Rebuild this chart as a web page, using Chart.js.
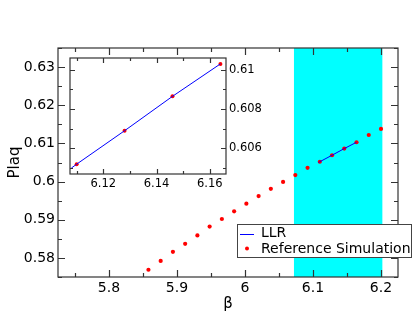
<!DOCTYPE html>
<html>
<head>
<meta charset="utf-8">
<script src="https://cdn.jsdelivr.net/npm/chart.js@4.4.1/dist/chart.umd.min.js"></script>
<style>
  html, body { margin: 0; padding: 0; background: #fff; }
  #wrap { position: relative; width: 415px; height: 321px; }
  #wrap canvas { position: absolute; left: 0; top: 0; }
</style>
</head>
<body>
<div id="wrap">
  <canvas id="main" width="415" height="321"></canvas>
  <canvas id="inset" width="415" height="321"></canvas>
</div>
<script>
// reference simulation
const refBeta = [5.858, 5.876, 5.894, 5.912, 5.930, 5.948, 5.966, 5.984, 6.002, 6.020,
                 6.038, 6.056, 6.074, 6.092, 6.110, 6.128, 6.146, 6.164, 6.182, 6.200];
const refPlaq = [0.5769, 0.5792, 0.5816, 0.5837, 0.5859, 0.5882, 0.5902, 0.5922, 0.5942, 0.5962,
                 0.5981, 0.5999, 0.6017, 0.6036, 0.6052, 0.6069, 0.60865, 0.6103, 0.6122, 0.6138];

// LLR result
const llrBeta = [6.108, 6.110, 6.128, 6.146, 6.164];
const llrPlaq = [0.6050, 0.6052, 0.6069, 0.60865, 0.6103];

// beta interval covered by LLR (shaded)
const llrWindow = [6.072, 6.202];

// axis ranges and ticks
const mainX = [5.725, 6.225];
const mainY = [0.575, 0.635];
const mainXTicks = [5.8, 5.9, 6.0, 6.1, 6.2];
const mainYTicks = [0.58, 0.59, 0.60, 0.61, 0.62, 0.63];
const insetX = [6.1075, 6.1661];
const insetY = [0.6047, 0.6106];
const insetXTicks = [6.12, 6.14, 6.16];
const insetYTicks = [0.606, 0.608, 0.610];

const FONT = "'DejaVu Sans', sans-serif";
const fmt = v => String(+(+v).toFixed(4));
const pts = (xs, ys) => xs.map((x, i) => ({x: x, y: ys[i]}));

// inward tick marks on all four sides + frame
const frameTicks = {
  id: 'frameTicks',
  afterDatasetsDraw(chart, args, o) {
    const {ctx, chartArea: a, scales: {x, y}} = chart;
    const minors = s => {
      const v = s.ticks.map(t => t.value);
      const st = v[1] - v[0];
      const m = v.map(t => t - st / 2).concat([v[v.length - 1] + st / 2]);
      return m.filter(t => t >= s.min && t <= s.max);
    };
    ctx.save();
    ctx.strokeStyle = o.color;
    ctx.lineWidth = o.width;
    ctx.beginPath();
    const xt = (vals, len) => vals.forEach(v => {
      const p = Math.round(x.getPixelForValue(v)) + 0.5;
      ctx.moveTo(p, a.bottom); ctx.lineTo(p, a.bottom - len);
      ctx.moveTo(p, a.top); ctx.lineTo(p, a.top + len);
    });
    const yt = (vals, len) => vals.forEach(v => {
      const p = Math.round(y.getPixelForValue(v)) + 0.5;
      ctx.moveTo(a.left, p); ctx.lineTo(a.left + len, p);
      ctx.moveTo(a.right, p); ctx.lineTo(a.right - len, p);
    });
    xt(x.ticks.map(t => t.value), o.major);
    xt(minors(x), o.minor);
    yt(y.ticks.map(t => t.value), o.major);
    yt(minors(y), o.minor);
    ctx.stroke();
    ctx.strokeRect(a.left, a.top, a.right - a.left, a.bottom - a.top);
    ctx.restore();
  }
};

const band = {
  id: 'band',
  beforeDatasetsDraw(chart) {
    const {ctx, chartArea: a, scales: {x}} = chart;
    const x0 = x.getPixelForValue(llrWindow[0]);
    const x1 = x.getPixelForValue(llrWindow[1]);
    ctx.save();
    ctx.fillStyle = '#00ffff';
    ctx.fillRect(x0, a.top, x1 - x0, a.bottom - a.top);
    ctx.restore();
  }
};

const boxLegend = {
  id: 'boxLegend',
  afterDraw(chart) {
    const ctx = chart.ctx;
    const ds = chart.data.datasets;
    ctx.save();
    ctx.fillStyle = '#fff';
    ctx.strokeStyle = '#444';
    ctx.lineWidth = 1;
    ctx.fillRect(237.5, 224.5, 174, 33);
    ctx.strokeRect(237.5, 224.5, 174, 33);
    ctx.font = '14px ' + FONT;
    ctx.textBaseline = 'middle';
    ctx.fillStyle = '#000';
    ctx.fillText(ds[0].label, 261, 233.5);
    ctx.fillText(ds[1].label, 261, 249);
    ctx.strokeStyle = ds[0].borderColor;
    ctx.beginPath(); ctx.moveTo(240, 234.5); ctx.lineTo(254, 234.5); ctx.stroke();
    ctx.fillStyle = ds[1].backgroundColor;
    ctx.beginPath(); ctx.arc(247, 248.5, 2, 0, Math.PI * 2); ctx.fill();
    ctx.restore();
  }
};

const whiteArea = {
  id: 'whiteArea',
  beforeDraw(chart) {
    const {ctx, chartArea: a} = chart;
    ctx.save();
    ctx.fillStyle = '#fff';
    ctx.fillRect(a.left, a.top, a.right - a.left, a.bottom - a.top);
    ctx.restore();
  }
};

function datasets(r) {
  return [
    { label: 'LLR', data: pts(llrBeta, llrPlaq), showLine: true, borderColor: '#0000ff',
      borderWidth: 1, pointRadius: 0, backgroundColor: '#0000ff' },
    { label: 'Reference Simulation', data: pts(refBeta, refPlaq), showLine: false,
      pointRadius: r, borderWidth: 0, backgroundColor: '#ff0000' }
  ];
}

function axis(range, ticks, size, extra) {
  return Object.assign({
    type: 'linear', min: range[0], max: range[1],
    afterBuildTicks: s => { s.ticks = ticks.map(v => ({ value: v })); },
    grid: { display: false, drawTicks: false },
    border: { display: false },
    ticks: { autoSkip: false, maxRotation: 0, padding: 3,
             color: '#000', font: { family: FONT, size: size }, callback: v => fmt(v) }
  }, extra);
}

new Chart(document.getElementById('main'), {
  type: 'scatter',
  data: { datasets: datasets(2.1) },
  options: {
    responsive: false, animation: false,
    layout: { padding: { left: 0, top: 48, right: 17, bottom: 0 } },
    plugins: { legend: { display: false }, tooltip: { enabled: false },
               frameTicks: { color: '#333', width: 1.2, major: 7, minor: 4 } },
    scales: {
      x: axis(mainX, mainXTicks, 14, {
        afterFit: s => { s.height = 44; },
        title: { display: true, text: 'β', color: '#000', font: { family: FONT, size: 15 },
                 padding: { top: 0, bottom: 8 } }
      }),
      y: axis(mainY, mainYTicks, 14, {
        afterFit: s => { s.width = 58; },
        title: { display: true, text: 'Plaq', color: '#000', font: { family: FONT, size: 15 },
                 padding: { top: 6, bottom: 0 } }
      })
    }
  },
  plugins: [band, frameTicks, boxLegend]
});

new Chart(document.getElementById('inset'), {
  type: 'scatter',
  data: { datasets: datasets(2) },
  options: {
    responsive: false, animation: false,
    layout: { padding: { left: 70, top: 58, right: 139, bottom: 127 } },
    plugins: { legend: { display: false }, tooltip: { enabled: false },
               frameTicks: { color: '#333', width: 1.2, major: 5, minor: 3 } },
    scales: {
      x: axis(insetX, insetXTicks, 11.5, { afterFit: s => { s.height = 20; } }),
      y: axis(insetY, insetYTicks, 11.5, { position: 'right', afterFit: s => { s.width = 50; } })
    }
  },
  plugins: [whiteArea, frameTicks]
});
</script>
</body>
</html>
